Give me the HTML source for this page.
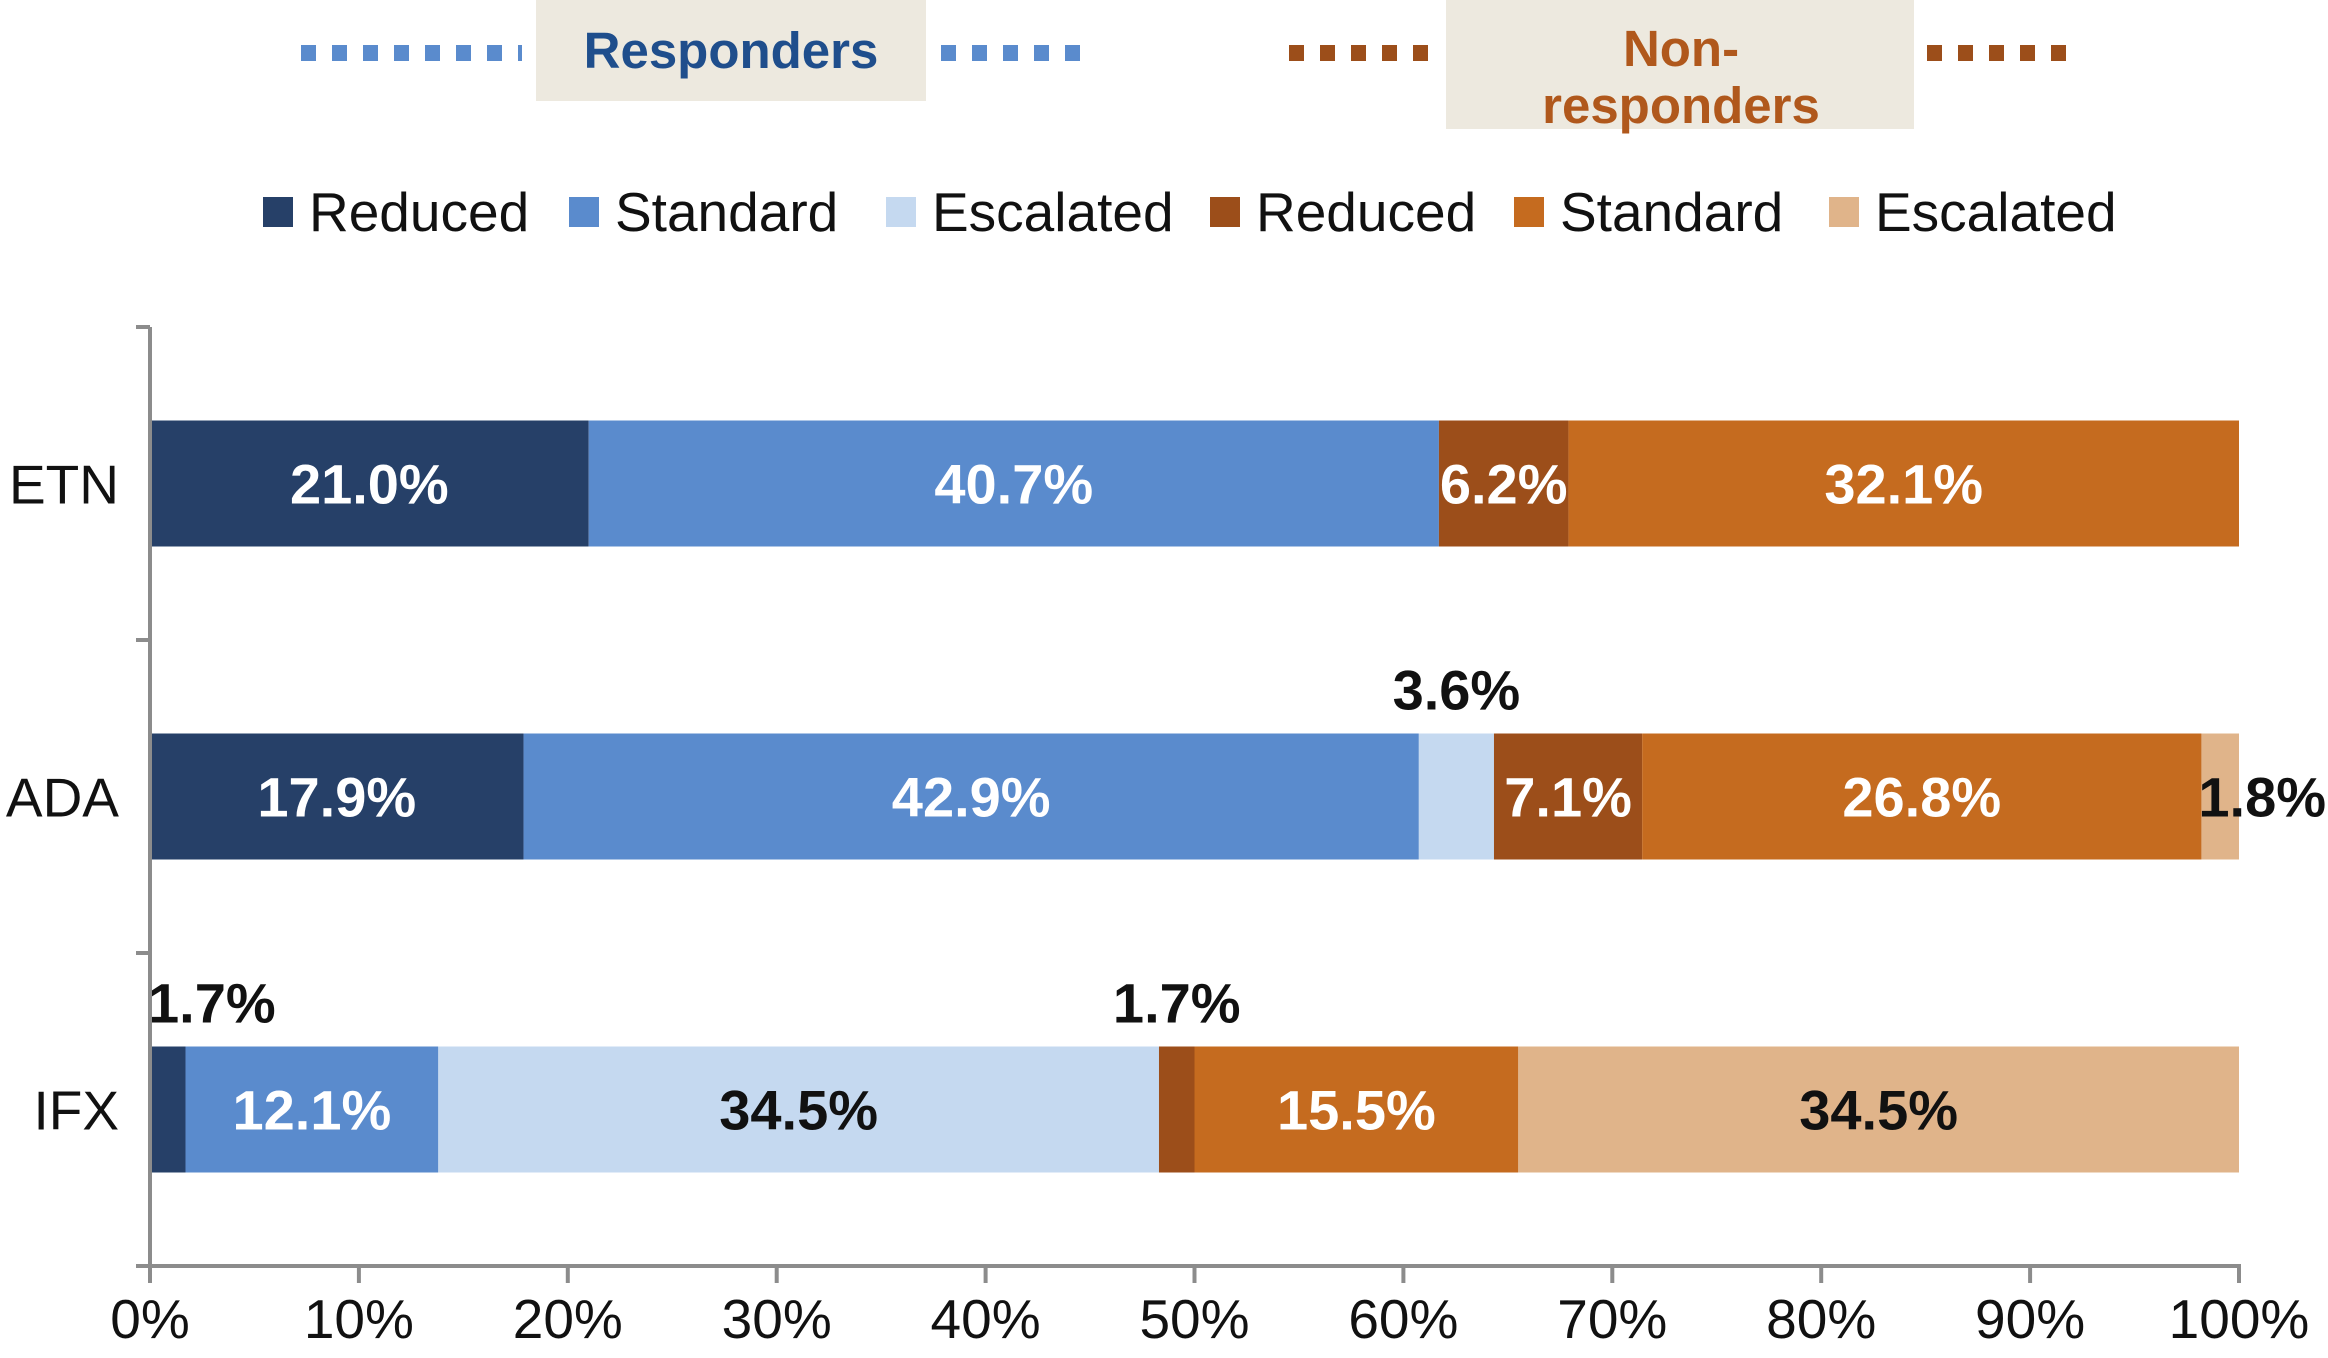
<!DOCTYPE html>
<html><head><meta charset="utf-8"><style>
html,body{margin:0;padding:0;background:#fff;}
svg{display:block;font-family:"Liberation Sans",Arial,sans-serif;}
</style></head><body>
<svg id="chart" width="2328" height="1358" viewBox="0 0 2328 1358" xmlns="http://www.w3.org/2000/svg">
<g id="header">
  <line x1="301" y1="53" x2="522" y2="53" stroke="#5a8bcd" stroke-width="16" stroke-dasharray="15 16"/>
  <rect x="536" y="0" width="390" height="101" fill="#ede9df"/>
  <text x="731" y="68" text-anchor="middle" font-size="51" font-weight="bold" fill="#1f4e8c">Responders</text>
  <line x1="941" y1="53" x2="1095" y2="53" stroke="#5a8bcd" stroke-width="16" stroke-dasharray="15 16"/>
  <line x1="1289" y1="53" x2="1443" y2="53" stroke="#9c4e1a" stroke-width="16" stroke-dasharray="15 16"/>
  <rect x="1446" y="0" width="468" height="129" fill="#ede9df"/>
  <text x="1681" y="66" text-anchor="middle" font-size="51" font-weight="bold" fill="#b0581c">Non-</text>
  <text x="1681" y="123" text-anchor="middle" font-size="51" font-weight="bold" fill="#b0581c">responders</text>
  <line x1="1927" y1="53" x2="2073" y2="53" stroke="#9c4e1a" stroke-width="16" stroke-dasharray="15 16"/>
</g>
<g id="legend"></g>
<g id="plot"></g>
</svg>
<script>
const categories = ["ETN", "ADA", "IFX"];
const seriesNames = ["Reduced", "Standard", "Escalated", "Reduced", "Standard", "Escalated"];
const respReduced = [21.0, 17.9, 1.7];
const respStandard = [40.7, 42.9, 12.1];
const respEscalated = [0, 3.6, 34.5];
const nonReduced = [6.2, 7.1, 1.7];
const nonStandard = [32.1, 26.8, 15.5];
const nonEscalated = [0, 1.8, 34.5];
const xTicks = [0, 10, 20, 30, 40, 50, 60, 70, 80, 90, 100];

const series = [respReduced, respStandard, respEscalated, nonReduced, nonStandard, nonEscalated];
const colors = ["#264068", "#5a8bcd", "#c5d9f0", "#9c4e1a", "#c56b1f", "#e0b48a"];
const labelColors = ["#fff", "#fff", "#111", "#fff", "#fff", "#111"];
const NS = "http://www.w3.org/2000/svg";
const X0 = 150, X1 = 2239, YT = 327, YB = 1266;
const bandH = (YB - YT) / categories.length, barH = 126;
function xScale(v) { return X0 + (X1 - X0) * v / 100; }
function bandCenter(i) { return YT + bandH * (i + 0.5); }
function mk(tag, attrs, parent) {
  const e = document.createElementNS(NS, tag);
  for (const k in attrs) e.setAttribute(k, attrs[k]);
  parent.appendChild(e);
  return e;
}
const plot = document.getElementById('plot');
const legend = document.getElementById('legend');

const legX = [263, 569, 886, 1210, 1514, 1829];
seriesNames.forEach((n, i) => {
  const sq = mk('rect', {x: legX[i], y: 197, width: 30, height: 30, fill: colors[i]}, legend);
  
  
  const t = mk('text', {x: legX[i] + 46, y: 231, 'font-size': 55, fill: '#111'}, legend);
  t.textContent = n;
  
  
});

categories.forEach((c, ci) => {
  const total = series.reduce((s, arr) => s + arr[ci], 0);
  const yc = bandCenter(ci), y = yc - barH / 2;
  let cum = 0;
  series.forEach((arr, si) => {
    const v = arr[ci];
    if (v <= 0) return;
    const a = xScale(cum / total * 100), b = xScale((cum + v) / total * 100);
    const r = mk('rect', {x: a, y: y, width: b - a, height: barH, fill: colors[si]}, plot);
    
    
    const lbl = v.toFixed(1) + '%';
    let lx = (a + b) / 2, ly = yc + 20, anchor = 'middle', fill = labelColors[si];
    if (v < 5) {
      if (si === 5) { lx = 2326; anchor = 'end'; fill = '#111'; }
      else if (si === 0) { lx = a - 2; anchor = 'start'; ly = y - 24; fill = '#111'; }
      else { ly = y - 24; fill = '#111'; }
    }
    const t = mk('text', {x: lx, y: ly, 'text-anchor': anchor, 'font-size': 56, 'font-weight': 'bold', fill: fill}, plot);
    t.textContent = lbl;
    
    
    cum += v;
  });
  const cl = mk('text', {x: 119, y: yc + 20, 'text-anchor': 'end', 'font-size': 55, fill: '#111'}, plot);
  cl.textContent = c;
  
  
});

const ya = mk('line', {x1: X0, y1: YT, x2: X0, y2: YB, stroke: '#8c8c8c', 'stroke-width': 4}, plot);


for (let i = 0; i <= categories.length; i++) {
  const yy = YT + bandH * i;
  const tk = mk('line', {x1: X0 - 14, y1: yy, x2: X0, y2: yy, stroke: '#8c8c8c', 'stroke-width': 4}, plot);
  
  
}
const xa = mk('line', {x1: X0 - 2, y1: YB, x2: X1 + 2, y2: YB, stroke: '#8c8c8c', 'stroke-width': 4}, plot);


xTicks.forEach(v => {
  const xx = xScale(v);
  const tk = mk('line', {x1: xx, y1: YB, x2: xx, y2: YB + 17, stroke: '#8c8c8c', 'stroke-width': 4}, plot);
  
  
  const t = mk('text', {x: xx, y: 1338, 'text-anchor': 'middle', 'font-size': 55, fill: '#111'}, plot);
  t.textContent = v + '%';
  
  
});
</script>
</body></html>
